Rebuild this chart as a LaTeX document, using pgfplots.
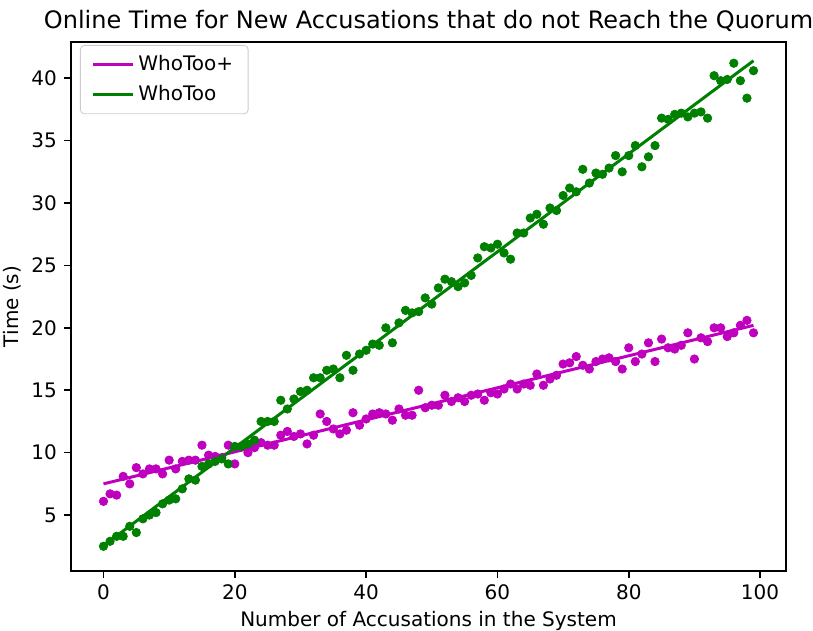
\documentclass[border=0pt]{standalone}
\usepackage{fontspec}
\setmainfont{DejaVu Sans}
\usepackage{pgfplots}
\usepackage{pgfplotstable}
\pgfplotsset{compat=1.18}
\definecolor{mplm}{rgb}{0.75,0,0.75}
\definecolor{mplg}{rgb}{0,0.5,0}

\pgfplotstableread{
x y
0 6.1
1 6.7
2 6.6
3 8.1
4 7.5
5 8.8
6 8.3
7 8.7
8 8.7
9 8.3
10 9.4
11 8.7
12 9.3
13 9.4
14 9.4
15 10.6
16 9.8
17 9.7
18 9.6
19 10.6
20 9.1
21 10.5
22 10.0
23 10.4
24 10.8
25 10.6
26 10.6
27 11.4
28 11.7
29 11.3
30 11.5
31 10.7
32 11.4
33 13.1
34 12.5
35 11.9
36 11.5
37 11.8
38 13.2
39 12.2
40 12.7
41 13.1
42 13.2
43 13.1
44 12.6
45 13.5
46 13.0
47 13.0
48 15.0
49 13.6
50 13.8
51 13.8
52 14.6
53 14.1
54 14.4
55 14.1
56 14.6
57 14.7
58 14.2
59 14.8
60 14.7
61 15.1
62 15.5
63 15.1
64 15.5
65 15.4
66 16.3
67 15.4
68 15.9
69 16.2
70 17.1
71 17.2
72 17.7
73 17.0
74 16.7
75 17.3
76 17.5
77 17.6
78 17.3
79 16.7
80 18.4
81 17.3
82 17.9
83 18.8
84 17.3
85 19.1
86 18.4
87 18.3
88 18.6
89 19.6
90 17.5
91 19.2
92 18.9
93 20.0
94 20.0
95 19.3
96 19.6
97 20.2
98 20.6
99 19.6
}\whotooplus

\pgfplotstableread{
x y
0 2.5
1 2.9
2 3.3
3 3.3
4 4.1
5 3.6
6 4.7
7 5.0
8 5.2
9 5.9
10 6.2
11 6.3
12 7.1
13 7.9
14 7.8
15 8.9
16 9.1
17 9.3
18 9.5
19 9.1
20 10.5
21 10.5
22 10.7
23 11.0
24 12.5
25 12.5
26 12.5
27 14.2
28 13.5
29 14.3
30 14.9
31 15.0
32 16.0
33 16.0
34 16.6
35 16.7
36 16.0
37 17.8
38 16.6
39 17.9
40 18.2
41 18.7
42 18.6
43 20.0
44 18.8
45 20.4
46 21.4
47 21.2
48 21.3
49 22.4
50 21.9
51 23.2
52 23.9
53 23.7
54 23.3
55 23.6
56 24.2
57 25.6
58 26.5
59 26.4
60 26.7
61 26.0
62 25.5
63 27.6
64 27.6
65 28.8
66 29.1
67 28.3
68 29.6
69 29.4
70 30.6
71 31.2
72 30.9
73 32.7
74 31.6
75 32.4
76 32.3
77 32.8
78 33.8
79 32.5
80 33.8
81 34.6
82 32.9
83 33.7
84 34.6
85 36.8
86 36.7
87 37.1
88 37.2
89 36.9
90 37.2
91 37.3
92 36.8
93 40.2
94 39.8
95 39.9
96 41.2
97 39.8
98 38.4
99 40.6
}\whotoo

\begin{document}
\begin{tikzpicture}
\useasboundingbox (-35.5pt,-30pt) rectangle (371pt,285.5pt);
\begin{axis}[
  at={(0,0)}, anchor=south west,
  scale only axis,
  width=357.5pt, height=264.5pt,
  xmin=-4.95, xmax=103.95,
  ymin=0.52, ymax=42.9,
  xtick={0,20,40,60,80,100},
  ytick={5,10,15,20,25,30,35,40},
  tick align=outside,
  xtick pos=bottom, ytick pos=left,
  major tick length=3.5pt,
  axis line style={line width=0.8pt},
  every tick/.style={black, line width=0.8pt},
  /pgf/number format/assume math mode=true,
  tick label style={font=\fontsize{10}{12}\selectfont},
  title={Online Time for New Accusations that do not Reach the Quorum},
  xlabel={Number of Accusations in the System},
  ylabel={Time (s)},
  every axis title/.style={at={([yshift=6.5pt]axis description cs:0.5,1)}, anchor=base, font=\fontsize{12}{14.4}\selectfont},
  every axis x label/.style={at={([yshift=-27.5pt]axis description cs:0.5,0)}, anchor=base, font=\fontsize{10}{12}\selectfont},
  every axis y label/.style={at={([xshift=-29.5pt]axis description cs:0,0.5)}, rotate=90, anchor=center, font=\fontsize{10}{12}\selectfont},
  legend style={draw=black!20, rounded corners=2pt, fill=white, fill opacity=0.8, text opacity=1,
    at={(axis description cs:0,1)}, anchor=north west, xshift=4.5pt, yshift=-1.5pt,
    inner xsep=5.5pt, inner ysep=3pt, row sep=2pt,
    font=\fontsize{10}{12}\selectfont},
  legend cell align=left,
  legend image code/.code={\draw[#1] (0pt,0pt) -- (20pt,0pt);},
]
\addplot[only marks, mark=*, mark size=2.1pt, color=mplm, forget plot] table[x=x,y=y] {\whotooplus};
\addplot[only marks, mark=*, mark size=2.1pt, color=mplg, forget plot] table[x=x,y=y] {\whotoo};
\addplot[mplm, line width=1.5pt] coordinates {(0,7.5) (99,20.2)};
\addlegendentry{WhoToo+}
\addplot[mplg, line width=1.5pt] coordinates {(0,2.55) (99,41.4)};
\addlegendentry{WhoToo}
\end{axis}
\end{tikzpicture}
\end{document}
